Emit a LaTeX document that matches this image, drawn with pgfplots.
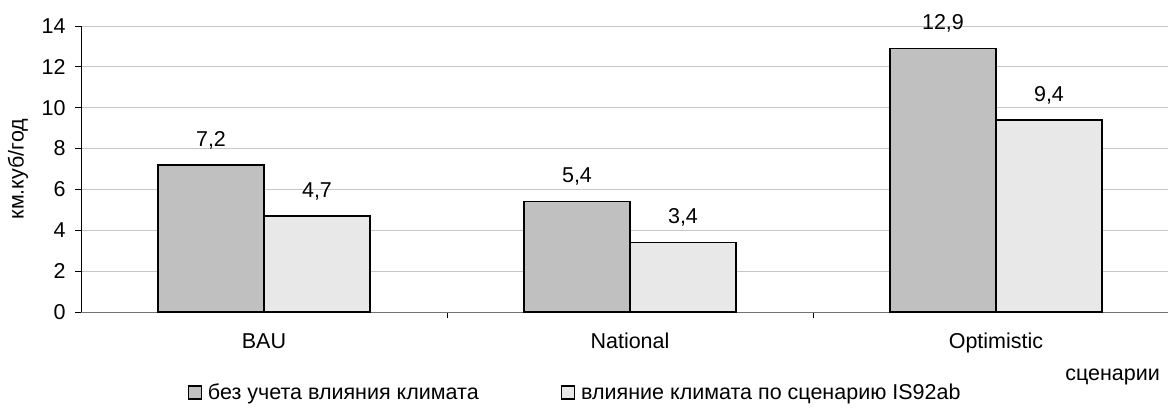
\documentclass[border=0pt]{standalone}
\usepackage{fontspec}
\setmainfont{Liberation Sans}
\usepackage{pgfplots}
\pgfplotsset{compat=1.18}
\definecolor{barA}{HTML}{C0C0C0}
\definecolor{barB}{HTML}{E8E8E8}
\begin{document}
\fontsize{21.5}{25}\selectfont
\begin{tikzpicture}
\useasboundingbox (0,0) rectangle (1168pt,410pt);
\begin{axis}[
  at={(81pt,98pt)}, anchor=south west,
  scale only axis, width=1087pt, height=286pt,
  font=\fontsize{21.5}{25}\selectfont,
  /pgf/number format/assume math mode=true,
  xmin=-0.5, xmax=2.47, ymin=0, ymax=14,
  ybar=0pt, bar width=106pt,
  axis x line*=bottom, axis y line*=left,
  x axis line style={-, draw=black!55, line width=1pt},
  y axis line style={-, draw=black, line width=0.8pt},
  xtick={0,1,2}, xticklabels={BAU,National,Optimistic},
  major x tick style={draw=none},
  minor xtick={0.5,1.5},
  minor x tick style={draw=black, line width=0.8pt},
  minor tick length=6pt,
  major tick length=6pt,
  tick align=outside,
  y tick style={draw=black, line width=0.8pt},
  ytick={0,2,...,14},
  ymajorgrids, grid style={black!22, line width=0.8pt},
  xticklabel style={yshift=-8pt},
  yticklabel style={xshift=-2pt},
  ylabel={км.куб/год},
  ylabel style={at={(axis description cs:-0.058,0.5)}, anchor=center},
  xlabel={сценарии},
  xlabel style={at={(axis description cs:0.949,-0.227)}, anchor=center},
  nodes near coords={\pgfmathprintnumber[use comma,fixed,fixed zerofill,precision=1]{\pgfplotspointmeta}},
  every node near coord/.append style={yshift=8pt, font=\fontsize{21.5}{25}\selectfont},
  legend columns=2,
  legend style={at={(axis description cs:0.4545,-0.283)}, anchor=center, draw=none, fill=none,
    /tikz/every even column/.append style={column sep=80pt}},
]
\addplot[fill=barA, draw=black, line width=1.6pt,
  legend image code/.code={\draw[fill=barA, draw=black, line width=1.2pt] (0pt,-6pt) rectangle (13pt,7pt); \path (17pt,0pt);}]
  coordinates {(0,7.2) (1,5.4) (2,12.9)};
\addplot[fill=barB, draw=black, line width=1.6pt,
  legend image code/.code={\draw[fill=barB, draw=black, line width=1.2pt] (0pt,-6pt) rectangle (13pt,7pt); \path (17pt,0pt);}]
  coordinates {(0,4.7) (1,3.4) (2,9.4)};
\legend{без учета влияния климата, влияние климата по сценарию IS92ab}
\end{axis}
\end{tikzpicture}
\end{document}
